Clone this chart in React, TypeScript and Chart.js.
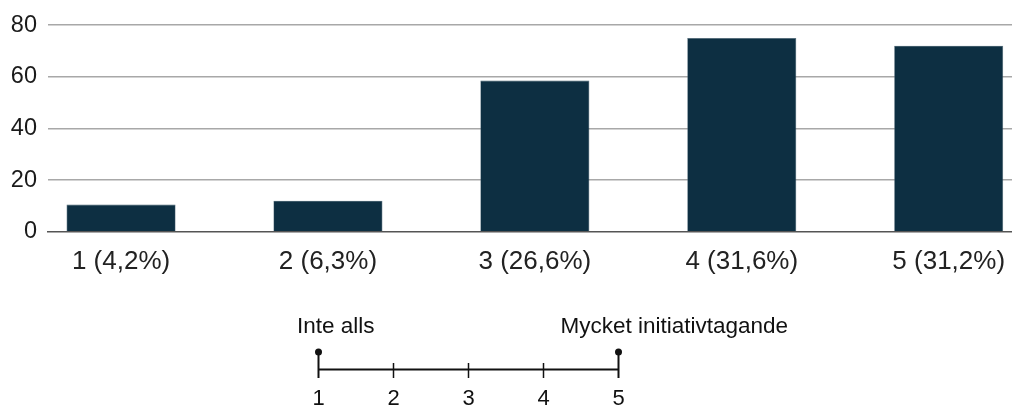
import React, { useEffect, useRef } from "react";
import { Chart, registerables } from "chart.js";

Chart.register(...registerables);

const categories = [1, 2, 3, 4, 5];
const xLabels = ["1 (4,2%)", "2 (6,3%)", "3 (26,6%)", "4 (31,6%)", "5 (31,2%)"];
const counts = [10.5, 12, 58.5, 75, 72];
const yTickLabels = ["0", "20", "40", "60", "80"];
const scaleSteps = ["1", "2", "3", "4", "5"];
const scaleLow = "Inte alls";
const scaleHigh = "Mycket initiativtagande";

const FONT = "'Liberation Sans', Arial, sans-serif";

const scaleDiagram = {
  id: "scaleDiagram",
  afterDraw(chart: any) {
    const ctx = chart.ctx as CanvasRenderingContext2D;
    const x0 = 318.5;
    const x1 = 618.5;
    const lineY = 369.5;
    const step = (x1 - x0) / (scaleSteps.length - 1);
    ctx.save();
    ctx.strokeStyle = "#111";
    ctx.fillStyle = "#111";
    ctx.lineWidth = 2;
    ctx.beginPath();
    ctx.moveTo(x0, lineY);
    ctx.lineTo(x1, lineY);
    ctx.stroke();
    scaleSteps.forEach((s, i) => {
      const x = x0 + i * step;
      const end = i === 0 || i === scaleSteps.length - 1;
      ctx.lineWidth = end ? 2 : 1.5;
      ctx.beginPath();
      ctx.moveTo(x, end ? 352 : 363);
      ctx.lineTo(x, 378);
      ctx.stroke();
      if (end) {
        ctx.beginPath();
        ctx.arc(x, 352, 3.5, 0, Math.PI * 2);
        ctx.fill();
      }
      ctx.font = `22px ${FONT}`;
      ctx.textAlign = "center";
      ctx.textBaseline = "middle";
      ctx.fillText(s, x, 398.5);
    });
    ctx.font = `22.5px ${FONT}`;
    ctx.textAlign = "left";
    ctx.textBaseline = "middle";
    ctx.fillText(scaleLow, 297, 327);
    ctx.fillText(scaleHigh, 560.5, 327);
    ctx.restore();
  },
};

export default function App() {
  const canvasRef = useRef<HTMLCanvasElement | null>(null);

  useEffect(() => {
    if (!canvasRef.current) return;
    const chart = new Chart(canvasRef.current, {
      type: "bar",
      data: {
        datasets: [
          {
            data: categories.map((c, i) => ({ x: c, y: counts[i] })),
            backgroundColor: "#0d2f42",
            borderColor: "#4a6372",
            borderWidth: 0.6,
            categoryPercentage: 1,
            barPercentage: 0.527,
          },
        ],
      },
      options: {
        animation: false,
        responsive: false,
        maintainAspectRatio: false,
        layout: { padding: { top: 23.5, left: 0, right: 0, bottom: 116.3 } },
        plugins: {
          legend: { display: false },
          tooltip: { enabled: false },
        },
        scales: {
          x: {
            type: "linear",
            offset: false,
            min: 0.647,
            max: 5.306,
            grid: { display: false, drawTicks: false, offset: false },
            border: { display: true, color: "#555", width: 1.5 },
            afterBuildTicks: (axis: any) => {
              axis.ticks = categories.map((c) => ({ value: c }));
            },
            afterFit: (axis: any) => {
              axis.height = 60;
              axis.paddingLeft = 0;
              axis.paddingRight = 0;
            },
            ticks: {
              autoSkip: false,
              maxRotation: 0,
              padding: 15,
              color: "#222",
              font: { family: FONT, size: 26 },
              callback: (v: any) => xLabels[categories.indexOf(Number(v))] ?? "",
            },
          },
          y: {
            min: 0,
            max: 80,
            grid: {
              drawTicks: false,
              color: (ctx: any) => (ctx.tick && ctx.tick.value === 0 ? "rgba(0,0,0,0)" : "#a8a8a8"),
              lineWidth: 1.4,
            },
            border: { display: false },
            afterFit: (axis: any) => {
              axis.width = 48;
            },
            ticks: {
              stepSize: 10,
              padding: 11,
              color: "#1a1a1a",
              font: { family: FONT, size: 23.5 },
              callback: (v: any) => {
                const idx = yTickLabels.indexOf(String(v));
                return idx >= 0 ? yTickLabels[idx] : "";
              },
            },
          },
        },
      },
      plugins: [scaleDiagram],
    } as any);
    return () => chart.destroy();
  }, []);

  return (
    <div style={{ position: "fixed", left: 0, top: 0, width: 1012, height: 408, background: "#fff" }}>
      <canvas ref={canvasRef} width={1012} height={408} style={{ width: 1012, height: 408 }} />
    </div>
  );
}
